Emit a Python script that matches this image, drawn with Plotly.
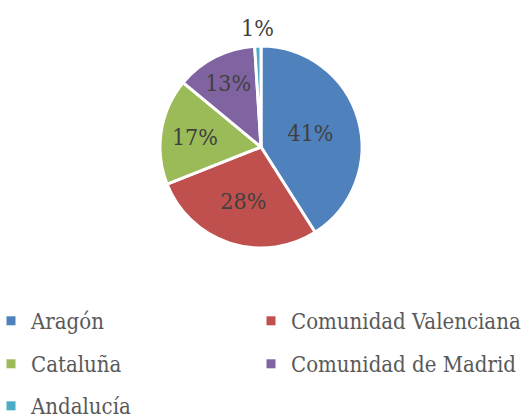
import math
import plotly.graph_objects as go

# ---- data ----
regions = ["Aragón", "Comunidad Valenciana", "Cataluña", "Comunidad de Madrid", "Andalucía"]
shares = [41, 28, 17, 13, 1]
colors = ["#4F81BD", "#C0504D", "#9BBB59", "#8064A2", "#4BACC6"]

FONT = "DejaVu Serif Condensed, Liberation Serif, serif"
W, H = 525, 418

# pie geometry (pixels)
cx, cy, r = 261, 147, 101

# slices that are too thin get their label placed outside, just beyond the rim
small = [s / sum(shares) < 0.03 for s in shares]

fig = go.Figure()
fig.add_trace(go.Pie(
    labels=regions,
    values=shares,
    sort=False,
    direction="clockwise",
    rotation=0,
    marker=dict(colors=colors, line=dict(color="white", width=3)),
    textinfo="percent",
    texttemplate=["" if sm else "%{percent:.0%}" for sm in small],
    textposition=["none" if sm else "inside" for sm in small],
    insidetextorientation="horizontal",
    textfont=dict(family=FONT, size=23, color="#404040"),
    domain=dict(x=[(cx - r) / W, (cx + r) / W], y=[(H - cy - r) / H, (H - cy + r) / H]),
    showlegend=False,
    hoverinfo="label+percent",
))

# outside labels for thin slices, centred on the slice's mid-angle
total = sum(shares)
cum = 0
for s, sm in zip(shares, small):
    if sm:
        a = 2 * math.pi * (cum + s / 2) / total
        R = r + 18
        fig.add_annotation(
            x=(cx + R * math.sin(a)) / W, y=(H - (cy - R * math.cos(a))) / H,
            xref="paper", yref="paper", text=f"{round(100 * s / total)}%",
            showarrow=False, xanchor="center", yanchor="middle",
            font=dict(family=FONT, size=23, color="#404040"),
        )
    cum += s

# legend placement: one small legend per entry (2-column grid)
# (marker-centre x px, row-centre y px)
slots = [(11, 321), (271, 321), (11, 364), (271, 364), (11, 406)]
layout_legends = {}
for i, (mx, yc) in enumerate(slots):
    name = "legend" if i == 0 else f"legend{i + 1}"
    fig.add_trace(go.Scatter(
        x=[None], y=[None], mode="markers", name=regions[i],
        marker=dict(symbol="square", size=9, color=colors[i], line=dict(width=0)),
        legend=name, showlegend=True,
    ))
    layout_legends[name] = dict(
        x=(mx - 20) / W, xanchor="left", y=(H - yc) / H, yanchor="middle",
        font=dict(family=FONT, size=22, color="#595959"),
        bgcolor="rgba(0,0,0,0)", itemclick=False, itemdoubleclick=False,
    )

fig.update_layout(
    width=W, height=H,
    margin=dict(l=0, r=0, t=0, b=0, autoexpand=False),
    paper_bgcolor="white", plot_bgcolor="white",
    xaxis=dict(visible=False), yaxis=dict(visible=False),
    **layout_legends,
)
fig.write_html("out.html", config={"displayModeBar": False},
               post_script="document.body.style.margin='0';")
